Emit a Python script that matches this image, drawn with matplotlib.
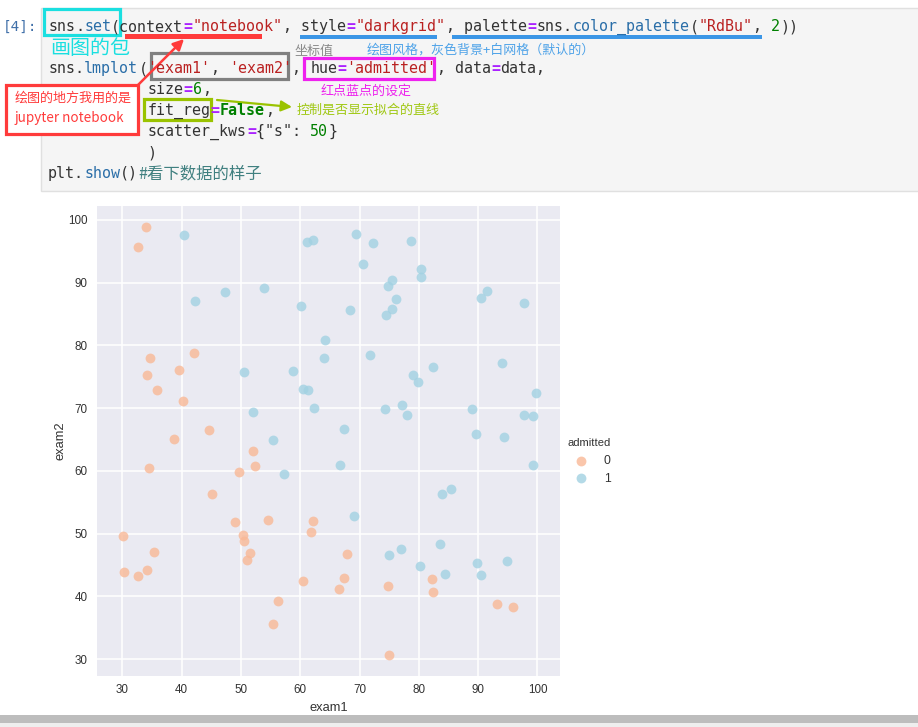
import matplotlib
matplotlib.use("Agg")
import matplotlib.pyplot as plt
from matplotlib.patches import Rectangle, FancyArrowPatch

W, H = 918, 727
CJK = ["Noto Sans CJK SC", "DejaVu Sans"]

exam1_0 = [34.62, 30.29, 35.85, 45.08, 95.86, 75.01, 39.54, 67.95, 67.37, 50.53, 34.21, 93.11,
           61.83, 38.79, 52.11, 40.24, 54.64, 33.92, 74.79, 34.18, 51.55, 82.37, 51.05, 62.22,
           34.52, 50.29, 49.59, 32.58, 35.29, 56.25, 30.06, 44.67, 66.56, 49.07, 32.72, 60.46,
           82.23, 42.08, 52.35, 55.48]
exam2_0 = [78.02, 43.89, 72.90, 56.32, 38.23, 30.60, 76.04, 46.68, 42.84, 48.86, 44.21, 38.80,
           50.26, 64.99, 63.13, 71.17, 52.21, 98.87, 41.57, 75.24, 46.86, 40.62, 45.82, 52.06,
           60.40, 49.80, 59.81, 95.60, 47.02, 39.26, 49.59, 66.45, 41.09, 51.88, 43.31, 42.51,
           42.72, 78.84, 60.77, 35.57]
exam1_1 = [60.18, 79.03, 61.11, 75.02, 76.10, 84.43, 82.31, 69.36, 53.97, 69.07, 70.66, 76.98,
           89.68, 77.92, 62.27, 80.19, 61.38, 85.40, 52.05, 64.18, 83.90, 94.44, 77.19, 97.77,
           62.07, 91.56, 79.94, 99.27, 90.55, 97.65, 74.25, 71.80, 75.40, 40.46, 80.28, 66.75,
           64.04, 72.35, 60.46, 58.84, 99.83, 47.26, 50.46, 88.91, 94.83, 67.32, 57.24, 80.37,
           68.47, 75.48, 78.64, 94.09, 90.45, 74.49, 89.85, 83.49, 42.26, 99.32, 55.34, 74.78]
exam2_1 = [86.31, 75.34, 96.51, 46.55, 87.42, 43.53, 76.48, 97.72, 89.21, 52.74, 92.93, 47.58,
           65.80, 68.97, 69.95, 44.82, 72.81, 57.05, 69.43, 80.91, 56.31, 65.36, 70.46, 86.73,
           96.77, 88.70, 74.16, 60.99, 43.39, 68.86, 69.82, 78.45, 85.76, 97.54, 92.12, 60.99,
           78.03, 96.23, 73.09, 75.86, 72.37, 88.48, 75.81, 69.80, 45.69, 66.59, 59.51, 90.96,
           85.59, 90.42, 96.65, 77.16, 87.51, 84.85, 45.36, 48.38, 87.10, 68.78, 64.93, 89.53]
x_ticks = [30, 40, 50, 60, 70, 80, 90, 100]
y_ticks = [30, 40, 50, 60, 70, 80, 90, 100]

BLACK, KW, STR, NUM, PROP = "#333333", "#aa22ff", "#ba2121", "#008000", "#2a6ea8"
code_lines = [
    (26, 0, [("sns", BLACK), (".", BLACK), ("set", PROP), ("(context", BLACK), ("=", KW), ('"notebook"', STR),
             (", style", BLACK), ("=", KW), ('"darkgrid"', STR), (", palette", BLACK), ("=", KW), ("sns.", BLACK),
             ("color_palette", PROP), ("(", BLACK), ('"RdBu"', STR), (", ", BLACK), ("2", NUM), ("))", BLACK)]),
    (68, 0, [("sns.", BLACK), ("lmplot", PROP), ("(", BLACK), ("'exam1'", STR), (", ", BLACK), ("'exam2'", STR),
             (", ", BLACK), ("hue", BLACK), ("=", KW), ("'admitted'", STR), (", data", BLACK), ("=", KW),
             ("data,", BLACK)]),
    (89, 11, [("size", BLACK), ("=", KW), ("6", NUM), (",", BLACK)]),
    (110, 11, [("fit_reg", BLACK), ("=", KW), ("False", "bold"), (",", BLACK)]),
    (131, 11, [("scatter_kws", BLACK), ("=", KW), ('{"s": ', BLACK), ("50", NUM), ("}", BLACK)]),
    (152, 11, [(")", BLACK)]),
    (173, 0, [("plt.", BLACK), ("show", PROP), ("()", BLACK)]),
]

fig = plt.figure(figsize=(W / 100, H / 100), dpi=100, facecolor="white")

# page layer in pixel coordinates
page = fig.add_axes([0, 0, 1, 1], zorder=3)
page.set_xlim(0, W)
page.set_ylim(H, 0)
page.axis("off")
page.patch.set_alpha(0)

back = fig.add_axes([0, 0, 1, 1], zorder=0)
back.set_xlim(0, W)
back.set_ylim(H, 0)
back.axis("off")
back.add_patch(Rectangle((41, 7.5), 880, 183, fc="#f5f5f5", ec="#e0e0e0", lw=1))
back.add_patch(Rectangle((0, 715), W, 8, fc="#bdbdbd", ec="none"))
back.add_patch(Rectangle((0, 723), W, 4, fc="#eeeeee", ec="none"))

CHAR = 9.04
page.text(3, 31, "[4]:", family="DejaVu Sans Mono", fontsize=10.4, color="#3f6fa8")
for yc, col, tokens in code_lines:
    for tok, c in tokens:
        x = 48 + col * CHAR
        if c == "bold":
            page.text(x, yc + 5, tok, family="DejaVu Sans Mono", fontsize=10.8, color=NUM, weight="bold")
        elif c == KW:
            page.text(x, yc + 5, tok, family="DejaVu Sans Mono", fontsize=10.8, color=c, weight="bold")
        else:
            page.text(x, yc + 5, tok, family="DejaVu Sans Mono", fontsize=10.8, color=c)
        col += len(tok)
page.text(48 + 10 * CHAR, 178, "#看下数据的样子", family=CJK, fontsize=11.8, color="#408080", style="italic")


def box(x0, y0, x1, y1, color, fill="none"):
    page.add_patch(Rectangle((x0, y0), x1 - x0, y1 - y0, fc=fill, ec=color, lw=2.3))


def bar(x0, x1, y, color):
    page.add_patch(Rectangle((x0, y), x1 - x0, 4.5, fc=color, ec="none"))


def note(x, y, s, color, size=9.4):
    page.text(x, y, s, family=CJK, fontsize=size, color=color, va="center")


box(44, 9, 120, 35, "#1adfe0")
bar(125, 262, 34, "#ff3b3b")
bar(300, 437, 34.5, "#3b96e6")
bar(452, 762, 34.5, "#3b96e6")
box(151, 53, 288, 79, "#808080")
box(304, 58, 434, 79, "#ee22ee")
box(144, 99, 211, 120, "#9ac300")
box(6, 85, 138, 134, "#ff3b3b", fill="white")

note(50, 48, "画图的包", "#1adfe0", 14.4)
note(295, 51, "坐标值", "#8a8a8a")
note(367, 50, "绘图风格，灰色背景+白网格（默认的）", "#4fa3e8", 9.4)
note(321, 91, "红点蓝点的设定", "#ee22ee")
note(297, 110, "控制是否显示拟合的直线", "#a0c814")
note(15, 98, "绘图的地方我用的是", "#ff3b3b", 9.4)
note(15, 118, "jupyter notebook", "#ff3b3b", 9.7)

page.add_patch(FancyArrowPatch((138, 85), (184, 39), arrowstyle="-|>", mutation_scale=16,
                               color="#ff3b3b", lw=1.8, shrinkA=0, shrinkB=0))
page.add_patch(FancyArrowPatch((217, 100), (292, 107), arrowstyle="-|>", mutation_scale=16,
                               color="#9ac300", lw=1.6, shrinkA=0, shrinkB=0))

# the chart itself
ax = fig.add_axes([97 / W, 1 - 676 / H, 463 / W, 470 / H], zorder=1, facecolor="#eaeaf2")
ax.scatter(exam1_0, exam2_0, s=50, c="#f9b896", alpha=0.8, linewidths=0, label="0", zorder=3)
ax.scatter(exam1_1, exam2_1, s=50, c="#a2d1e2", alpha=0.8, linewidths=0, label="1", zorder=3)
ax.set_xlim(25.73, 103.8)
ax.set_ylim(27.3, 102.2)
ax.set_xticks(x_ticks)
ax.set_yticks(y_ticks)
ax.grid(color="white", lw=1.1)
ax.set_axisbelow(True)
ax.tick_params(length=0, labelsize=8.4, labelcolor="#333333")
ax.tick_params(axis="x", pad=6)
ax.tick_params(axis="y", pad=7)
for s in ax.spines.values():
    s.set_visible(False)
for lab in ax.get_xticklabels() + ax.get_yticklabels():
    lab.set_family("Liberation Sans")
ax.set_xlabel("exam1", family="Liberation Sans", fontsize=9.3, color="#333333", labelpad=4)
ax.set_ylabel("exam2", family="Liberation Sans", fontsize=9.3, color="#333333", labelpad=1)
leg = ax.legend(title="admitted", loc="upper left", bbox_to_anchor=(557 / W, 1 - 427 / H),
                bbox_transform=fig.transFigure, frameon=False, fontsize=8.8, title_fontsize=8.1,
                labelspacing=0.46, handletextpad=0.9, scatterpoints=1)
leg._legend_box.sep = 5
for t in leg.get_texts() + [leg.get_title()]:
    t.set_family("Liberation Sans")
    t.set_color("#333333")

fig.savefig("out.png", dpi=100)
